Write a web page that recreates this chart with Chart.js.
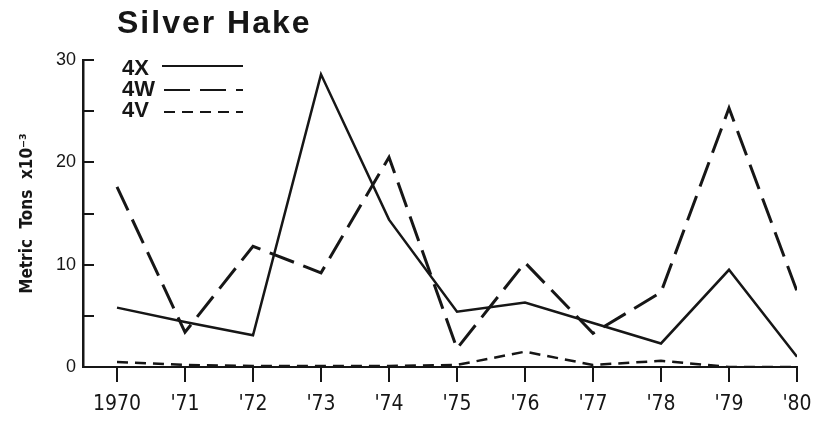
<!DOCTYPE html>
<html>
<head>
<meta charset="utf-8">
<title>Silver Hake</title>
<script src="https://cdn.jsdelivr.net/npm/chart.js@4.4.1/dist/chart.umd.min.js"></script>
<style>
  html, body { margin: 0; padding: 0; background: #fff; }
  #wrap { width: 815px; height: 421px; }
</style>
</head>
<body>
<div id="wrap"><canvas id="myChart" width="815" height="421"></canvas></div>
<script>
// Dados (leitura do grafico, toneladas x 10^-3)
var anos = [1970, 1971, 1972, 1973, 1974, 1975, 1976, 1977, 1978, 1979, 1980];
var rotulosAnos = ['1970', "'71", "'72", "'73", "'74", "'75", "'76", "'77", "'78", "'79", "'80"];
var serie4X = [5.8, 4.4, 3.1, 28.6, 14.4, 5.4, 6.3, 4.3, 2.3, 9.5, 1.0];
var serie4W = [17.6, 3.4, 11.8, 9.2, 20.5, 1.8, 10.2, 3.3, 7.3, 25.3, 7.4];
var serie4V = [0.5, 0.2, 0.1, 0.1, 0.1, 0.2, 1.5, 0.2, 0.6, 0.0, 0.0];
var rotulosY = [0, 10, 20, 30];

var preto = '#161616';

function pontos(valores) {
  return anos.map(function (a, i) { return { x: a, y: valores[i] }; });
}

// titulo e legenda desenhados por cima do grafico
var extras = {
  id: 'extras',
  afterDraw: function (chart) {
    var ctx = chart.ctx;
    ctx.save();
    ctx.fillStyle = preto;
    ctx.textBaseline = 'alphabetic';
    ctx.font = 'bold 32px "Liberation Sans", Arial, sans-serif';
    ctx.letterSpacing = '2px';
    ctx.fillText('Silver Hake', 117, 33);
    ctx.letterSpacing = '0px';

    var linhasY = [66, 90, 112];
    var textoY = [75, 96, 117];
    chart.data.datasets.forEach(function (ds, i) {
      ctx.font = 'bold 22px "Liberation Sans", Arial, sans-serif';
      ctx.fillStyle = preto;
      ctx.fillText(ds.label, 122, textoY[i]);
      ctx.beginPath();
      ctx.strokeStyle = preto;
      ctx.lineWidth = 2;
      ctx.setLineDash(ds.borderDash || []);
      ctx.moveTo(ds.label === '4X' ? 162 : 164, linhasY[i]);
      ctx.lineTo(243, linhasY[i]);
      ctx.stroke();
    });
    ctx.restore();
  }
};

var ctx = document.getElementById('myChart').getContext('2d');
var myChart = new Chart(ctx, {
  type: 'line',
  data: {
    datasets: [{
      label: '4X',
      data: pontos(serie4X),
      borderColor: preto,
      borderWidth: 2.5,
      borderDash: [],
      pointRadius: 0,
      tension: 0
    }, {
      label: '4W',
      data: pontos(serie4W),
      borderColor: preto,
      borderWidth: 3,
      borderDash: [26, 10],
      pointRadius: 0,
      tension: 0
    }, {
      label: '4V',
      data: pontos(serie4V),
      borderColor: preto,
      borderWidth: 2.5,
      borderDash: [11, 7],
      pointRadius: 0,
      tension: 0
    }]
  },
  options: {
    responsive: false,
    animation: false,
    devicePixelRatio: 1,
    layout: { padding: { top: 60, right: 18, left: 0, bottom: 0 } },
    plugins: {
      legend: { display: false },
      tooltip: { enabled: false },
      title: { display: false }
    },
    scales: {
      x: {
        type: 'linear',
        min: 1969.5,
        max: 1980,
        afterBuildTicks: function (scale) {
          scale.ticks = anos.map(function (a) { return { value: a }; });
        },
        afterFit: function (scale) {
          scale.height = 54;
          scale.paddingLeft = 0;
          scale.paddingRight = 0;
        },
        border: { display: true, color: preto, width: 2 },
        grid: {
          drawOnChartArea: false,
          drawTicks: true,
          tickLength: 15,
          color: preto,
          lineWidth: 2
        },
        ticks: {
          padding: 10,
          autoSkip: false,
          maxRotation: 0,
          color: preto,
          font: { family: '"DejaVu Sans Condensed", "Liberation Sans Narrow", "DejaVu Sans", sans-serif', size: 21 },
          callback: function (value) {
            var i = anos.indexOf(value);
            return i >= 0 ? rotulosAnos[i] : '';
          }
        }
      },
      y: {
        min: 0,
        max: 30,
        afterFit: function (scale) { scale.width = 83; },
        border: { display: true, color: preto, width: 2.5 },
        grid: {
          drawOnChartArea: false,
          drawTicks: true,
          tickLength: -11,
          color: preto,
          lineWidth: 2
        },
        ticks: {
          stepSize: 5,
          padding: 18,
          color: preto,
          font: { family: '"Liberation Sans", Arial, sans-serif', size: 18 },
          callback: function (value) {
            return rotulosY.indexOf(value) >= 0 ? String(value) : '';
          }
        },
        title: {
          display: true,
          text: 'Metric  Tons  x10⁻³',
          color: preto,
          font: { family: '"DejaVu Sans Condensed", "Liberation Sans", sans-serif', size: 17, weight: 'bold' },
          padding: { top: 17, bottom: 0 }
        }
      }
    }
  },
  plugins: [extras]
});
</script>
</body>
</html>
